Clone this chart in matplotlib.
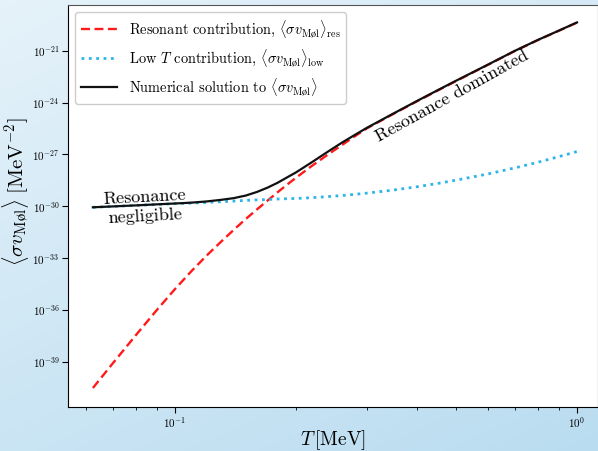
import numpy as np
import matplotlib
matplotlib.use("Agg")
import matplotlib.pyplot as plt
from matplotlib.ticker import LogLocator, NullFormatter

plt.rcParams["mathtext.fontset"] = "cm"
plt.rcParams["font.family"] = "serif"
plt.rcParams["font.serif"] = ["cmr10", "DejaVu Serif"]
plt.rcParams["axes.formatter.use_mathtext"] = True

# temperature grid [MeV]
T = [0.0625, 0.07, 0.08, 0.09, 0.1, 0.11, 0.12, 0.13, 0.14, 0.15,
     0.16, 0.17, 0.18, 0.19, 0.2, 0.22, 0.24, 0.26, 0.28, 0.3,
     0.35, 0.4, 0.45, 0.5, 0.6, 0.7, 0.8, 0.9, 1.0]

# log10 of <sigma v> [MeV^-2]
log_res = [-40.53, -39.11, -37.46, -36.03, -34.8, -33.75, -32.85, -32.07, -31.37, -30.74,
           -30.18, -29.67, -29.19, -28.75, -28.35, -27.63, -27.01, -26.46, -25.95, -25.49,
           -24.64, -23.92, -23.3, -22.75, -21.81, -21.01, -20.37, -19.84, -19.36]
log_low = [-30.06, -30.01, -29.95, -29.9, -29.85, -29.82, -29.78, -29.74, -29.70, -29.66,
           -29.63, -29.61, -29.58, -29.56, -29.55, -29.5, -29.44, -29.38, -29.31, -29.24,
           -29.06, -28.87, -28.68, -28.49, -28.13, -27.78, -27.45, -27.13, -26.83]
log_num = [-30.06, -30.01, -29.95, -29.89, -29.84, -29.79, -29.72, -29.63, -29.53, -29.38,
           -29.17, -28.92, -28.64, -28.33, -28.04, -27.42, -26.84, -26.32, -25.87, -25.46,
           -24.62, -23.9, -23.28, -22.73, -21.8, -21.0, -20.36, -19.83, -19.35]

ytick_vals = [1e-39, 1e-36, 1e-33, 1e-30, 1e-27, 1e-24, 1e-21]

sv_res = 10.0 ** np.array(log_res)
sv_low = 10.0 ** np.array(log_low)
sv_num = 10.0 ** np.array(log_num)

fig = plt.figure(figsize=(5.98, 4.51), dpi=100)

# light blue backdrop
bg = fig.add_axes([0, 0, 1, 1], zorder=-1)
gx = np.linspace(0, 1, 200)
gy = np.linspace(0, 1, 200)
GX, GY = np.meshgrid(gx, gy)
c_dark = np.array([0.72, 0.86, 0.94])
c_light = np.array([0.90, 0.95, 0.98])
w = np.clip(0.35 * GX + 0.6 * GY, 0, 1)[..., None]
img = c_light * (1 - w) + c_dark * w
bg.imshow(img, extent=[0, 1, 0, 1], aspect="auto", origin="upper")
bg.axis("off")

ax = fig.add_axes([68 / 598, 1 - 407 / 451, 1 - 68 / 598, (407 - 5) / 451])
ax.set_facecolor("white")
ax.spines["top"].set_color("#555555")

ax.plot(T, sv_res, "--", color="#ff1a1a", lw=1.7, dashes=(3.8, 1.9),
        label=r"Resonant contribution, $\langle\sigma v_{\mathrm{M\o l}}\rangle_{\mathrm{res}}$")
ax.plot(T, sv_low, ":", color="#2bb5e8", lw=2.0,
        label=r"Low $T$ contribution, $\langle\sigma v_{\mathrm{M\o l}}\rangle_{\mathrm{low}}$")
ax.plot(T, sv_num, "-", color="#111111", lw=1.6,
        label=r"Numerical solution to $\langle\sigma v_{\mathrm{M\o l}}\rangle$")

ax.set_xscale("log")
ax.set_yscale("log")
ax.set_xlim(0.0542, 1.128)
ax.set_ylim(10 ** -41.63, 10 ** -18.34)
ax.set_yticks(ytick_vals)
ax.yaxis.set_minor_locator(plt.NullLocator())
ax.xaxis.set_minor_locator(LogLocator(base=10, subs=np.arange(2, 10)))
ax.xaxis.set_minor_formatter(NullFormatter())
ax.tick_params(labelsize=8, direction="out", length=4, pad=2)
ax.tick_params(which="minor", length=2.5)

ax.set_xlabel(r"$T\,[\mathrm{MeV}]$", fontsize=14)
ax.xaxis.set_label_coords(0.5, -0.052)
ax.set_ylabel(r"$\langle\sigma v_{\mathrm{M\o l}}\rangle\;[\mathrm{MeV}^{-2}]$", fontsize=15)
ax.yaxis.set_label_coords(-0.07, 0.535)

ax.text(0.084, 10 ** -30.05, "Resonance\nnegligible", fontsize=13, ha="center",
        va="center", rotation=3, linespacing=1.25)
ax.text(0.49, 10 ** -23.65, "Resonance dominated", fontsize=13, ha="center",
        va="center", rotation=29, rotation_mode="anchor")

ax.legend(loc="upper left", fontsize=10.4, frameon=True, framealpha=1,
          edgecolor="#cccccc", handlelength=2.5)

fig.savefig("out.png", dpi=100)
